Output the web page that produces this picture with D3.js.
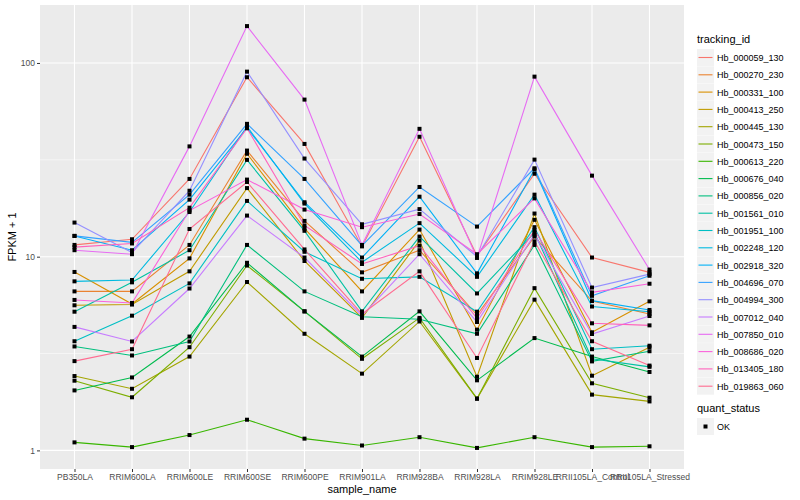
<!DOCTYPE html>
<html>
<head>
<meta charset="utf-8">
<script src="https://cdn.jsdelivr.net/npm/d3@7"></script>
<style>
  body { margin: 0; background: #fff; }
  text { font-family: "Liberation Sans", Arial, sans-serif; }
</style>
</head>
<body>
<div id="chart"></div>
<script>
const samples = ["PB350LA", "RRIM600LA", "RRIM600LE", "RRIM600SE", "RRIM600PE", "RRIM901LA",
  "RRIM928BA", "RRIM928LA", "RRIM928LE", "RRII105LA_Control", "RRII105LA_Stressed"];

const trackingIds = ["Hb_000059_130", "Hb_000270_230", "Hb_000331_100", "Hb_000413_250",
  "Hb_000445_130", "Hb_000473_150", "Hb_000613_220", "Hb_000676_040", "Hb_000856_020",
  "Hb_001561_010", "Hb_001951_100", "Hb_002248_120", "Hb_002918_320", "Hb_004696_070",
  "Hb_004994_300", "Hb_007012_040", "Hb_007850_010", "Hb_008686_020", "Hb_013405_180",
  "Hb_019863_060"];

// FPKM + 1, one row per tracking_id, one value per sample
const fpkm = [
  [11.5, 12.3, 25.2, 84.4, 38.2, 11.3, 41.6, 10.1, 26.8, 9.9, 8.3],
  [6.62, 6.62, 11.5, 35.3, 15.3, 8.3, 10.8, 5.0, 12.7, 5.9, 5.06],
  [8.34, 5.7, 9.8, 34.0, 14.0, 6.62, 13.8, 4.2, 15.5, 4.07, 5.88],
  [5.61, 5.66, 8.4, 22.6, 9.5, 4.83, 12.1, 2.4, 16.7, 2.43, 3.41],
  [2.42, 2.08, 3.05, 7.4, 4.0, 2.49, 4.63, 1.85, 6.0, 1.94, 1.79],
  [2.29, 1.88, 3.41, 9.0, 5.22, 2.97, 4.83, 1.85, 6.88, 2.22, 1.87],
  [1.1, 1.04, 1.2, 1.44, 1.15, 1.06, 1.17, 1.03, 1.17, 1.04, 1.05],
  [2.04, 2.38, 3.87, 9.3, 5.22, 3.05, 5.22, 2.3, 3.8, 3.05, 2.54],
  [3.44, 3.09, 3.65, 11.5, 6.62, 4.9, 4.75, 4.0, 11.5, 2.88, 3.25],
  [5.2, 7.37, 10.8, 31.6, 13.6, 5.22, 12.7, 6.46, 13.3, 2.97, 2.7],
  [3.66, 4.96, 7.28, 19.4, 10.6, 7.69, 7.87, 5.2, 14.2, 3.33, 3.47],
  [7.46, 7.58, 17.0, 47.0, 18.8, 9.36, 14.9, 7.87, 20.9, 5.53, 5.2],
  [12.8, 10.8, 19.7, 46.2, 19.1, 9.9, 20.4, 8.2, 28.2, 5.93, 5.31],
  [12.8, 11.85, 20.9, 48.5, 25.2, 11.4, 22.9, 14.3, 28.6, 6.28, 7.97],
  [15.0, 10.5, 21.9, 90.2, 32.1, 14.7, 17.6, 10.0, 31.7, 6.93, 8.13],
  [4.34, 3.65, 6.85, 16.3, 9.9, 4.96, 10.3, 4.6, 13.0, 3.99, 4.94],
  [10.8, 10.3, 37.1, 155, 64.7, 11.5, 45.7, 9.85, 85, 26.2, 8.58],
  [5.98, 5.77, 17.3, 25.0, 17.5, 14.2, 16.6, 10.3, 20.0, 6.54, 7.25],
  [11.2, 11.7, 17.9, 46.0, 14.5, 9.17, 11.4, 4.8, 13.7, 4.53, 4.42],
  [2.89, 3.33, 13.9, 24.3, 10.9, 5.06, 8.4, 3.0, 12.0, 3.66, 2.74]
];

const yBreaks = [1, 10, 100];
const statusLabels = ["OK"];

// default ggplot hue palette for 20 levels
const palette = ["#F8766D", "#EA8331", "#D89000", "#C09B00", "#A3A500", "#7CAE00", "#39B600",
  "#00BB4E", "#00BF7D", "#00C1A3", "#00BFC4", "#00BAE0", "#00B0F6", "#35A2FF", "#9590FF",
  "#C77CFF", "#E76BF3", "#FA62DB", "#FF62BC", "#FF6C91"];

const W = 800, H = 500;
const panel = {left: 40, right: 684, top: 5, bottom: 469};

const svg = d3.select("#chart").append("svg")
    .attr("width", W)
    .attr("height", H);

const color = d3.scaleOrdinal().domain(trackingIds).range(palette);

const x = d3.scalePoint()
    .domain(samples)
    .range([panel.left, panel.right])
    .padding(0.6);

// log scale with ggplot style 5% expansion in log space
const all = fpkm.flat();
const lmin = Math.log10(d3.min(all)), lmax = Math.log10(d3.max(all));
const pad = (lmax - lmin) * 0.05;
const y = d3.scaleLog()
    .domain([Math.pow(10, lmin - pad), Math.pow(10, lmax + pad)])
    .range([panel.bottom, panel.top]);

// panel background
svg.append("rect")
    .attr("x", panel.left).attr("y", panel.top)
    .attr("width", panel.right - panel.left)
    .attr("height", panel.bottom - panel.top)
    .attr("fill", "#EBEBEB");

// minor grid (midpoints in log space)
const minor = [0.5, 1.5].map(p => Math.pow(10, p));
svg.append("g").selectAll("line")
    .data(minor)
    .join("line")
    .attr("x1", panel.left).attr("x2", panel.right)
    .attr("y1", d => y(d)).attr("y2", d => y(d))
    .attr("stroke", "#fff").attr("stroke-width", 0.55);

// major grid
svg.append("g").selectAll("line")
    .data(yBreaks)
    .join("line")
    .attr("x1", panel.left).attr("x2", panel.right)
    .attr("y1", d => y(d)).attr("y2", d => y(d))
    .attr("stroke", "#fff").attr("stroke-width", 1.1);

svg.append("g").selectAll("line")
    .data(samples)
    .join("line")
    .attr("x1", d => x(d)).attr("x2", d => x(d))
    .attr("y1", panel.top).attr("y2", panel.bottom)
    .attr("stroke", "#fff").attr("stroke-width", 1.1);

// lines
const line = d3.line()
    .x((d, i) => x(samples[i]))
    .y(d => y(d));

svg.append("g").selectAll("path")
    .data(fpkm)
    .join("path")
    .attr("d", line)
    .attr("fill", "none")
    .attr("stroke", (d, i) => color(trackingIds[i]))
    .attr("stroke-width", 1.1);

// points
const pts = fpkm.flatMap(row => row.map((v, i) => ({s: samples[i], v: v})));
svg.append("g").selectAll("rect")
    .data(pts)
    .join("rect")
    .attr("x", d => x(d.s) - 2)
    .attr("y", d => y(d.v) - 2)
    .attr("width", 4).attr("height", 4)
    .attr("fill", "#000");

// axes
const yAxis = svg.append("g")
    .attr("transform", `translate(${panel.left},0)`)
    .call(d3.axisLeft(y).tickValues(yBreaks).tickFormat(d3.format("d")).tickSize(3).tickPadding(2));

const xAxis = svg.append("g")
    .attr("transform", `translate(0,${panel.bottom})`)
    .call(d3.axisBottom(x).tickSize(3).tickPadding(2));

[yAxis, xAxis].forEach(a => {
  a.select(".domain").remove();
  a.selectAll(".tick line").attr("stroke", "#333333");
  a.selectAll(".tick text").attr("fill", "#4D4D4D").style("font-size", "8.5px");
});

svg.append("text")
    .attr("x", (panel.left + panel.right) / 2)
    .attr("y", 493)
    .attr("text-anchor", "middle")
    .style("font-size", "11px")
    .text("sample_name");

svg.append("text")
    .attr("transform", `translate(16,${(panel.top + panel.bottom) / 2}) rotate(-90)`)
    .attr("text-anchor", "middle")
    .style("font-size", "11px")
    .text("FPKM + 1");

// legend: tracking_id
const leg = svg.append("g").attr("transform", "translate(697,0)");
leg.append("text")
    .attr("x", 0).attr("y", 43)
    .style("font-size", "11px")
    .text("tracking_id");

const keyH = 17.3;
const items = leg.selectAll("g.item")
    .data(trackingIds)
    .join("g")
    .attr("class", "item")
    .attr("transform", (d, i) => `translate(0,${49 + i * keyH})`);

items.append("rect")
    .attr("width", 17).attr("height", 17)
    .attr("fill", "#F2F2F2");
items.append("line")
    .attr("x1", 1.5).attr("x2", 15.5)
    .attr("y1", 8.5).attr("y2", 8.5)
    .attr("stroke", d => color(d))
    .attr("stroke-width", 1.1);
items.append("text")
    .attr("x", 20).attr("y", 12)
    .style("font-size", "9px")
    .text(d => d);

// legend: quant_status
leg.append("text")
    .attr("x", 0).attr("y", 412)
    .style("font-size", "11px")
    .text("quant_status");

const st = leg.selectAll("g.status")
    .data(statusLabels)
    .join("g")
    .attr("class", "status")
    .attr("transform", (d, i) => `translate(0,${418 + i * keyH})`);
st.append("rect")
    .attr("width", 17).attr("height", 17)
    .attr("fill", "#F2F2F2");
st.append("rect")
    .attr("x", 6.5).attr("y", 6.5)
    .attr("width", 4).attr("height", 4)
    .attr("fill", "#000");
st.append("text")
    .attr("x", 20).attr("y", 12)
    .style("font-size", "9px")
    .text(d => d);
</script>
</body>
</html>
